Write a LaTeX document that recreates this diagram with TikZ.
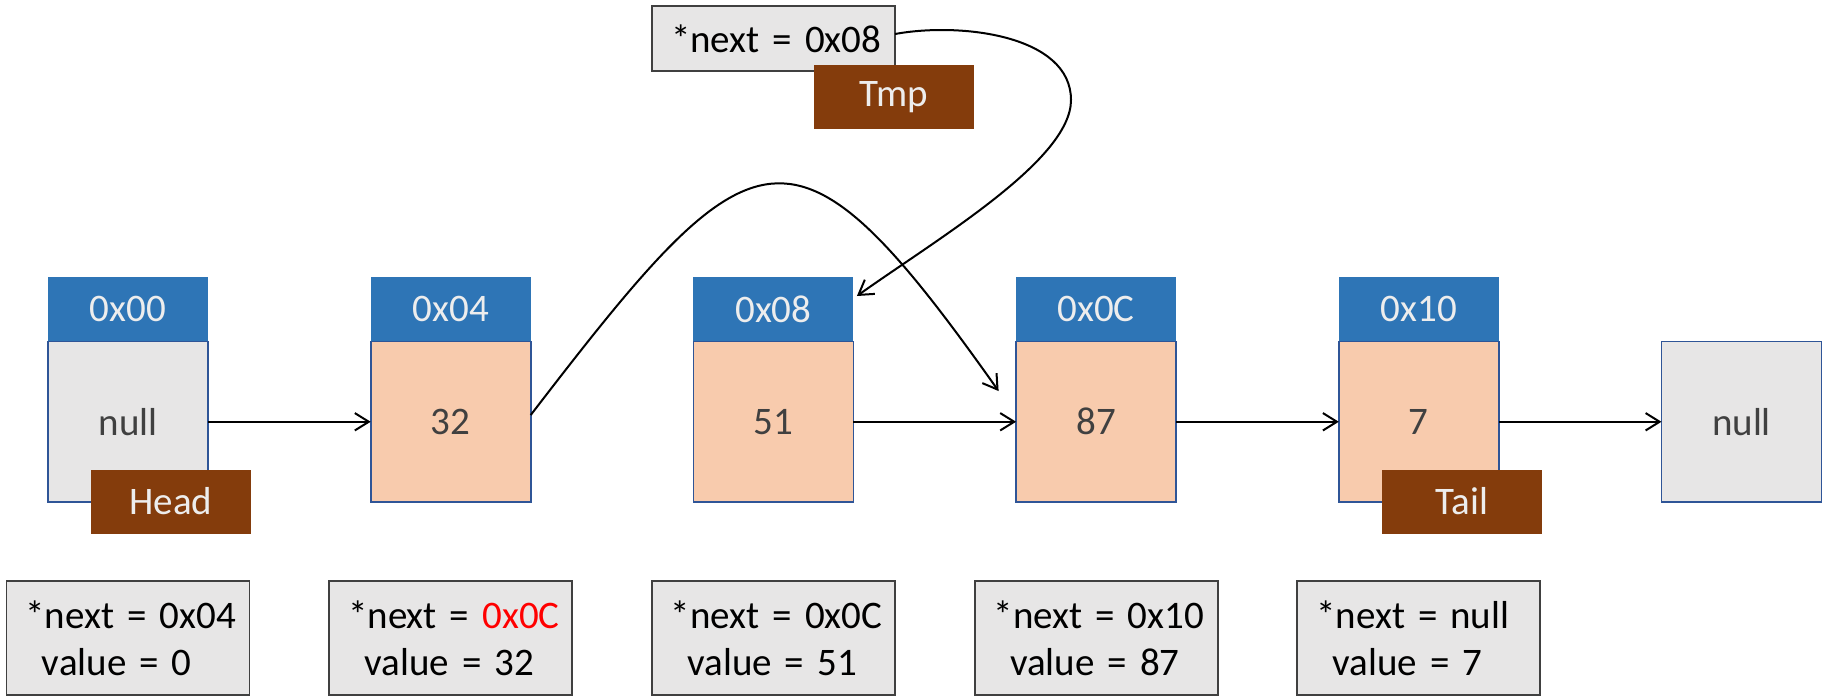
\documentclass[tikz,border=0pt]{standalone}
\usepackage{fontspec}
\setmainfont{Carlito}
\usetikzlibrary{arrows.meta,calc}
\definecolor{hdrblue}{HTML}{2E75B6}
\definecolor{cellfill}{HTML}{F8CBAD}
\definecolor{cellline}{HTML}{2F5597}
\definecolor{boxgray}{HTML}{E7E6E6}
\definecolor{tagbrown}{HTML}{843C0C}
\definecolor{inkgray}{HTML}{404040}
\definecolor{paleink}{HTML}{EDEDED}

\newcommand{\firstln}{\hspace*{8.75pt}}
\newcommand{\secondln}{\\\hspace*{17pt}}

\begin{document}
\begin{tikzpicture}[x=0.5pt,y=-0.5pt,
  every node/.style={inner sep=0pt, outer sep=0pt, font=\fontsize{19.5pt}{23.3pt}\selectfont},
  hdr/.style={fill=hdrblue, text=paleink, minimum width=80pt, minimum height=32.25pt},
  cell/.style={fill=cellfill, draw=cellline, line width=0.9pt, text=inkgray, minimum width=80pt, minimum height=80.25pt},
  nullcell/.style={cell, fill=boxgray},
  tag/.style={fill=tagbrown, text=paleink, minimum width=80pt, minimum height=32pt},
  info/.style={fill=boxgray, draw=inkgray, line width=0.9pt, text=black, minimum width=121.5pt, minimum height=57pt, text width=120pt, align=left},
  link/.style={draw=black, line width=1pt, -{Straight Barb[length=7pt,width=8.7pt]}}
]
\useasboundingbox (0,0) rectangle (1831,698);

% list cells: address header + value body
\node[hdr] (h0) at (128,309.25) {0x00};
\node[nullcell] (c0) at (128,421.75) {null};
\node[hdr] (h1) at (450.7,309.25) {0x04};
\node[cell] (c1) at (450.7,421.75) {32};
\node[hdr] (h2) at (773.4,309.25) {0x08};
\node[cell] (c2) at (773.4,421.75) {51};
\node[hdr] (h3) at (1096.1,309.25) {0x0C};
\node[cell] (c3) at (1096.1,421.75) {87};
\node[hdr] (h4) at (1418.8,309.25) {0x10};
\node[cell] (c4) at (1418.8,421.75) {7};
\node[nullcell] (c5) at (1741.5,421.75) {null};

% pointer tags
\node[tag] (head) at (171,501.5) {Head};
\node[tag] (tail) at (1461.8,501.5) {Tail};

% struct contents under each cell
\node[info] (s0) at (128,638) {\firstln*next = 0x04\secondln value = 0};
\node[info] (s1) at (450.7,638) {\firstln*next = {\color{red}0x0C}\secondln value = 32};
\node[info] (s2) at (773.4,638) {\firstln*next = 0x0C\secondln value = 51};
\node[info] (s3) at (1096.1,638) {\firstln*next = 0x10\secondln value = 87};
\node[info] (s4) at (1418.8,638) {\firstln*next = null\secondln value = 7};

% temporary pointer
\node[info, minimum height=32.5pt] (tmpbox) at (773.5,38.5) {\firstln*next = 0x08};
\node[tag] (tmp) at (894,97) {Tmp};

% next links
\draw[link] (c0.east) -- (c1.west);
\draw[link] (c2.east) -- (c3.west);
\draw[link] (c3.east) -- (c4.west);
\draw[link] (c4.east) -- (c5.west);

% 0x04 now skips 0x08
\coordinate (land) at ($(c3.west)+(-17.5,-30.7)$);
\draw[link] ([yshift=3.35pt]c1.east) .. controls (755,123) and (792,99) .. (land);

% Tmp keeps the removed cell
\coordinate (tmpin) at ($(h2.north east)+(3.5,19)$);
\draw[link] ([yshift=2.25pt]tmpbox.east) .. controls (960,22) and (1071,35) .. (1071,100)
  .. controls (1071,160) and (938.5,238) .. (tmpin);
\end{tikzpicture}
\end{document}
